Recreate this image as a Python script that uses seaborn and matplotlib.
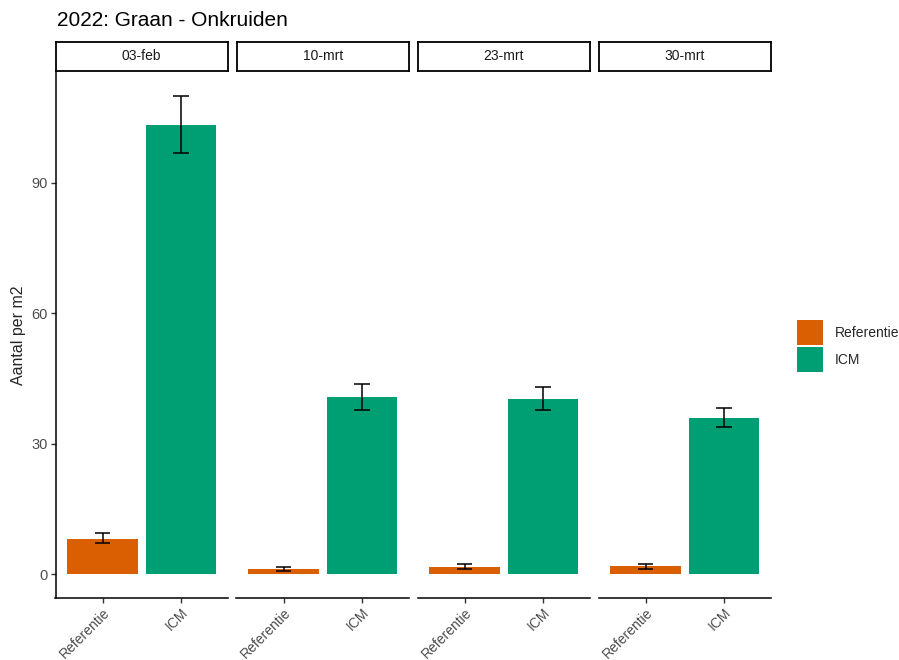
import matplotlib
matplotlib.use("Agg")
import matplotlib.pyplot as plt
from matplotlib.patches import Patch
import seaborn as sns
import pandas as pd
import numpy as np

sns.set_style("white")
plt.rcParams["font.family"] = ["Liberation Sans", "DejaVu Sans"]

# Data: mean weed count per m2 with error bar bounds, per sampling date
dates = ["03-feb", "10-mrt", "23-mrt", "30-mrt"]
groups = ["Referentie", "ICM"]
ref_mean = [8.1, 1.1, 1.7, 1.8]
ref_low = [7.1, 0.7, 1.1, 1.15]
ref_high = [9.4, 1.7, 2.4, 2.3]
icm_mean = [103.2, 40.8, 40.2, 35.9]
icm_low = [96.8, 37.8, 37.7, 33.8]
icm_high = [109.9, 43.7, 42.9, 38.2]
colors = {"Referentie": "#D95F02", "ICM": "#009E73"}
yticks = [0, 30, 60, 90]

df = pd.DataFrame({
    "datum": np.repeat(dates, 2),
    "groep": groups * len(dates),
    "mean": [v for pair in zip(ref_mean, icm_mean) for v in pair],
    "low": [v for pair in zip(ref_low, icm_low) for v in pair],
    "high": [v for pair in zip(ref_high, icm_high) for v in pair],
})

W, H = 899, 660
fig = plt.figure(figsize=(W / 100, H / 100), dpi=100)

panel_x = [55.5, 236.5, 417.5, 598.5]
panel_w = 172.5
panel_top, panel_bot = 72, 598
strip_top, strip_bot = 42, 71

ymin, ymax = -5.5, 115.4
grey = "#4D4D4D"

for i, d in enumerate(dates):
    sub = df[df["datum"] == d]
    ax = fig.add_axes([panel_x[i] / W, 1 - panel_bot / H, panel_w / W,
                       (panel_bot - panel_top) / H])
    sns.barplot(data=sub, x="groep", y="mean", hue="groep", order=groups,
                hue_order=groups, palette=colors, width=0.9, errorbar=None,
                saturation=1, legend=False, ax=ax, linewidth=0)
    pos = {g: k for k, g in enumerate(groups)}
    for _, r in sub.iterrows():
        x = pos[r["groep"]]
        ax.vlines(x, r["low"], r["high"], color="black", lw=1.1)
        ax.hlines([r["low"], r["high"]], x - 0.1, x + 0.1, color="black", lw=1.1)
    ax.set_xlim(-0.6, 1.6)
    ax.set_ylim(ymin, ymax)
    ax.set_xlabel("")
    ax.set_ylabel("")
    for s in ["top", "right"]:
        ax.spines[s].set_visible(False)
    ax.spines["bottom"].set_linewidth(1.1)
    ax.spines["bottom"].set_color("black")
    ax.tick_params(axis="x", bottom=True, length=3.5, width=1.0, color="#333333",
                   labelsize=10, labelcolor=grey, pad=2)
    for lab in ax.get_xticklabels():
        lab.set_rotation(45)
        lab.set_ha("right")
        lab.set_va("top")
        lab.set_rotation_mode("anchor")
    if i == 0:
        ax.spines["left"].set_linewidth(1.1)
        ax.spines["left"].set_color("black")
        ax.set_yticks(yticks)
        ax.tick_params(axis="y", left=True, length=3.5, width=1.0, color="#333333",
                       labelsize=10.5, labelcolor=grey, pad=2)
        ax.set_ylabel("Aantal per m2", fontsize=11.5, labelpad=4)
    else:
        ax.spines["left"].set_visible(False)
        ax.set_yticks([])
    # facet strip
    sax = fig.add_axes([panel_x[i] / W, 1 - strip_bot / H, panel_w / W,
                        (strip_bot - strip_top) / H])
    sax.set_xticks([])
    sax.set_yticks([])
    for s in sax.spines.values():
        s.set_visible(True)
        s.set_color("black")
        s.set_linewidth(1.3)
    sax.text(0.5, 0.5, d, ha="center", va="center", fontsize=10, color="#1A1A1A",
             transform=sax.transAxes)

fig.text(57 / W, 1 - 21 / H, "2022: Graan - Onkruiden", fontsize=15,
         ha="left", va="center", color="black")

handles = [Patch(facecolor=colors[g], edgecolor="none", label=g) for g in groups]
fig.legend(handles=handles, loc="center left", bbox_to_anchor=(797 / W, 1 - 346 / H),
           frameon=False, fontsize=10, handlelength=1.9, handleheight=2.4,
           handletextpad=0.8, labelspacing=0.1, borderaxespad=0, borderpad=0)

fig.savefig("out.png", dpi=100)
